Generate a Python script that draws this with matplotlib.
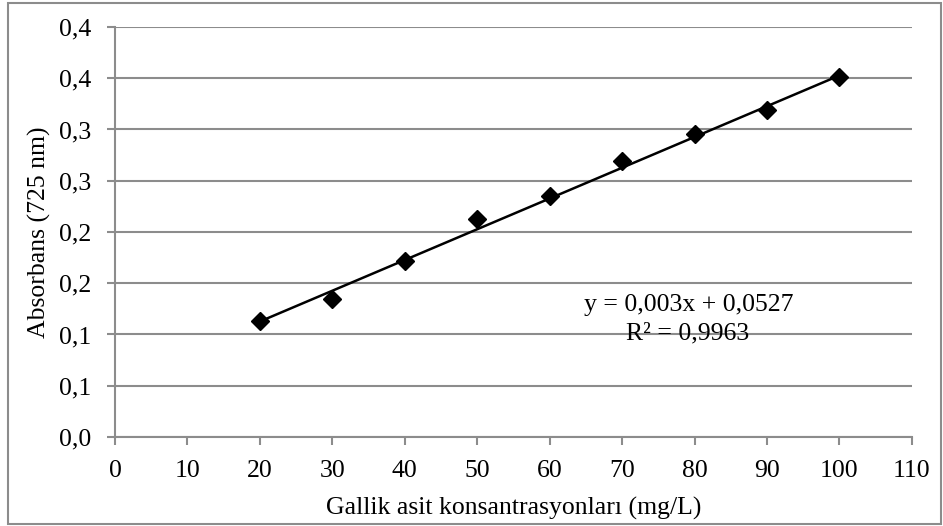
import matplotlib
matplotlib.use("Agg")
import matplotlib.pyplot as plt
from matplotlib.patches import Rectangle
from matplotlib.ticker import FixedLocator, FuncFormatter
from decimal import Decimal, ROUND_HALF_UP

# Gallic acid calibration data
concentration = [20, 30, 40, 50, 60, 70, 80, 90, 100]
absorbance = [0.113, 0.135, 0.172, 0.2125, 0.2355, 0.2695, 0.296, 0.319, 0.351]

# Linear trendline coefficients
slope = 0.003
intercept = 0.0527
r_squared = 0.9963

x_ticks = [0, 10, 20, 30, 40, 50, 60, 70, 80, 90, 100, 110]
y_ticks = [0.0, 0.05, 0.10, 0.15, 0.20, 0.25, 0.30, 0.35, 0.40]

plt.rcParams['font.family'] = ['Liberation Serif', 'DejaVu Serif']
FS = 18.5


def one_decimal_comma(v, pos=None):
    d = Decimal(str(round(v, 4))).quantize(Decimal('0.1'), rounding=ROUND_HALF_UP)
    return str(d).replace('.', ',')


fig = plt.figure(figsize=(9.43, 5.26), dpi=100)
ax = fig.add_axes([0.122, 0.1692, 0.845, 0.7795])

grey = '#8c8c8c'

# outer chart frame
fig.patches.append(Rectangle((8 / 943, 2 / 526), 933 / 943, 521 / 526,
                             transform=fig.transFigure, fill=False,
                             edgecolor=grey, linewidth=1.5))

ax.set_xlim(0, 110)
ax.set_ylim(0, 0.40)
ax.xaxis.set_major_locator(FixedLocator(x_ticks))
ax.yaxis.set_major_locator(FixedLocator(y_ticks))
ax.yaxis.set_major_formatter(FuncFormatter(one_decimal_comma))
ax.xaxis.set_major_formatter(FuncFormatter(lambda v, p: f"{int(round(v))}"))

ax.grid(axis='y', color=grey, linewidth=1.5)
ax.set_axisbelow(True)
for side in ('top', 'right'):
    ax.spines[side].set_visible(False)
for side in ('left', 'bottom'):
    ax.spines[side].set_color(grey)
    ax.spines[side].set_linewidth(1.5)
ax.tick_params(axis='both', colors=grey, length=6, width=1.5, labelsize=FS,
               labelcolor='black')
ax.tick_params(axis='y', pad=11)
ax.tick_params(axis='x', pad=10.5)

# trendline from the regression equation
x_line = [concentration[0], concentration[-1]]
y_line = [slope * x + intercept for x in x_line]
ax.plot(x_line, y_line, color='black', linewidth=1.8, zorder=3)

ax.plot(concentration, absorbance, linestyle='none', marker='D',
        markersize=9.5, color='black', zorder=4, clip_on=False)

eq = f"y = {slope:.3f}x + {intercept:.4f}".replace('.', ',')
r2 = f"R² = {r_squared:.4f}".replace('.', ',')
ax.text(79.2, 0.1285, eq, ha='center', va='center', fontsize=FS)
ax.text(79.0, 0.101, r2, ha='center', va='center', fontsize=FS)

ax.set_xlabel("Gallik asit konsantrasyonları (mg/L)", fontsize=FS, labelpad=10.5)
ax.set_ylabel("Absorbans (725 nm)", fontsize=FS, labelpad=6)

fig.savefig("out.png", dpi=100)
